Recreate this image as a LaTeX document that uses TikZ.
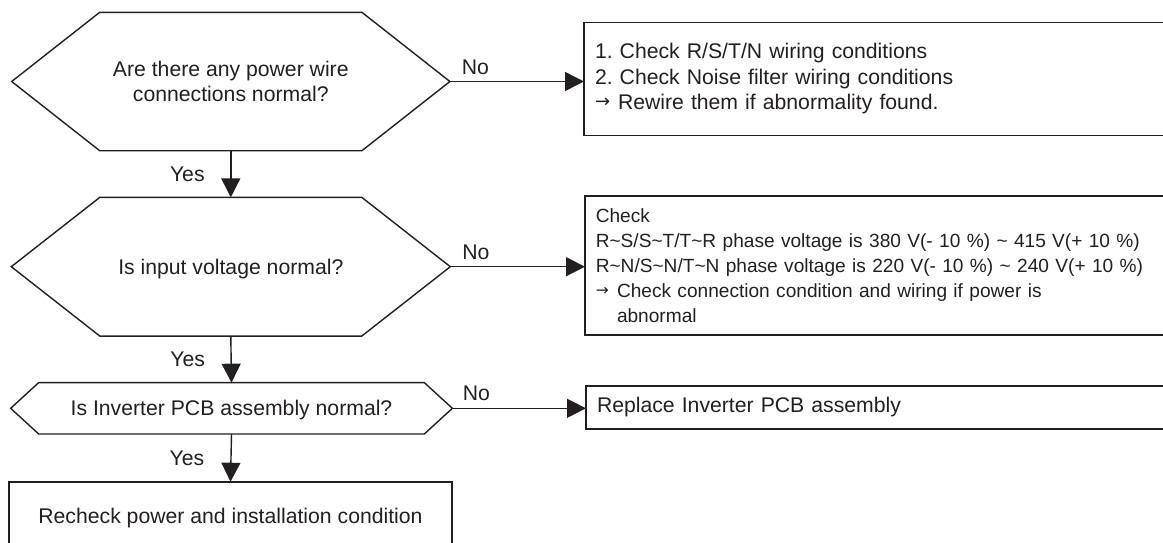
\documentclass[tikz,border=0pt]{standalone}
\usepackage{fontspec}
\setmainfont{Liberation Sans}
\newfontfamily\arrowfont{DejaVu Sans}
\usetikzlibrary{arrows.meta}
\definecolor{ink}{RGB}{35,31,32}
\newcommand\tld{\textasciitilde}
\newcommand\rtarrowA{\makebox[23pt][l]{\raisebox{2pt}{\arrowfont\fontsize{18}{18}\selectfont →}}}
\newcommand\rtarrowB{\makebox[21.2pt][l]{\raisebox{2.3pt}{\arrowfont\fontsize{15.5}{15.5}\selectfont →}}}
\newcommand\drawhex[2]{\draw[hexline] (#1.north west) -- (#1.north east) -- ([xshift=#2]#1.east) -- (#1.south east) -- (#1.south west) -- ([xshift=-#2]#1.west) -- cycle;}
\begin{document}
\begin{tikzpicture}[x=1pt,y=-1pt,
  every node/.style={font=\fontsize{21.2}{25.5}\selectfont\frenchspacing, text=ink},
  hexin/.style={inner sep=0pt, outer sep=0pt, align=center, text depth=0pt},
  hexline/.style={draw=ink, line width=1.4pt, line join=miter},
  box/.style={draw=ink, line width=1.8pt, inner xsep=11pt, inner ysep=0pt, outer sep=0pt, align=left, anchor=north west},
  smallbox/.style={box, inner xsep=10.8pt, font=\fontsize{19.1}{25}\selectfont\frenchspacing},
  arr/.style={draw=ink, line width=1.4pt, -{Triangle[length=19pt,width=19pt]}},
  lab/.style={inner sep=0pt}
]
\useasboundingbox (0,0) rectangle (1163,542);
\clip (0,0) rectangle (1163,542);

% decisions
\node[hexin, minimum width=262.2pt, minimum height=138.4pt] (h1) at (230.8,81.5) {Are there any power wire\\connections normal?};
\drawhex{h1}{88pt}
\coordinate (h1r) at ([xshift=88pt]h1.east);

\node[hexin, minimum width=262pt, minimum height=138.7pt] (h2) at (230.8,266.7) {Is input voltage normal?};
\drawhex{h2}{88.5pt}
\coordinate (h2r) at ([xshift=88.5pt]h2.east);

\node[hexin, minimum width=385.7pt, minimum height=51.3pt] (h3) at (231.5,408.3) {Is Inverter PCB assembly normal?};
\drawhex{h3}{28pt}
\coordinate (h3r) at ([xshift=28pt]h3.east);

% boxes
\node[box, text width=580pt, minimum height=113pt] (b1) at (584,22.5)
  {1. Check R/S/T/N wiring conditions\\
   2. Check Noise filter wiring conditions\\
   \rtarrowA Rewire them if abnormality found.};

\node[smallbox, text width=580pt, minimum height=139pt] (b2) at (585,196.3)
  {Check\\
   R\tld S/S\tld T/T\tld R phase voltage is 380 V(- 10 \%) \tld{} 415 V(+ 10 \%)\\
   R\tld N/S\tld N/T\tld N phase voltage is 220 V(- 10 \%) \tld{} 240 V(+ 10 \%)\\
   \rtarrowB Check connection condition and wiring if power is\\
   \hspace*{21.2pt}abnormal};

\node[box, text width=580pt, minimum height=42.5pt] (b3) at (586,386.1)
  {Replace Inverter PCB assembly};

\node[draw=ink, line width=1.8pt, inner sep=0pt, outer sep=0pt, anchor=north,
      minimum width=442.4pt, minimum height=73.6pt] (b4) at (230.5,481.7)
  {Recheck power and installation condition};

% connectors
\draw[arr] (h1r) -- node[lab, pos=0.19, yshift=14.5pt] {No} (h1r -| b1.west);
\draw[arr] (h2r) -- node[lab, pos=0.19, yshift=14pt] {No} (h2r -| b2.west);
\draw[arr] (h3r) -- node[lab, pos=0.18, yshift=15pt] {No} (h3r -| b3.west);

\draw[arr] (h1.south) -- node[lab, xshift=-43.5pt] {Yes} (h2.north);
\draw[arr] (h2.south) -- node[lab, xshift=-43.5pt] {Yes} (h3.north);
\draw[arr] (h3.south) -- node[lab, xshift=-44pt] {Yes} (b4.north);
\end{tikzpicture}
\end{document}
